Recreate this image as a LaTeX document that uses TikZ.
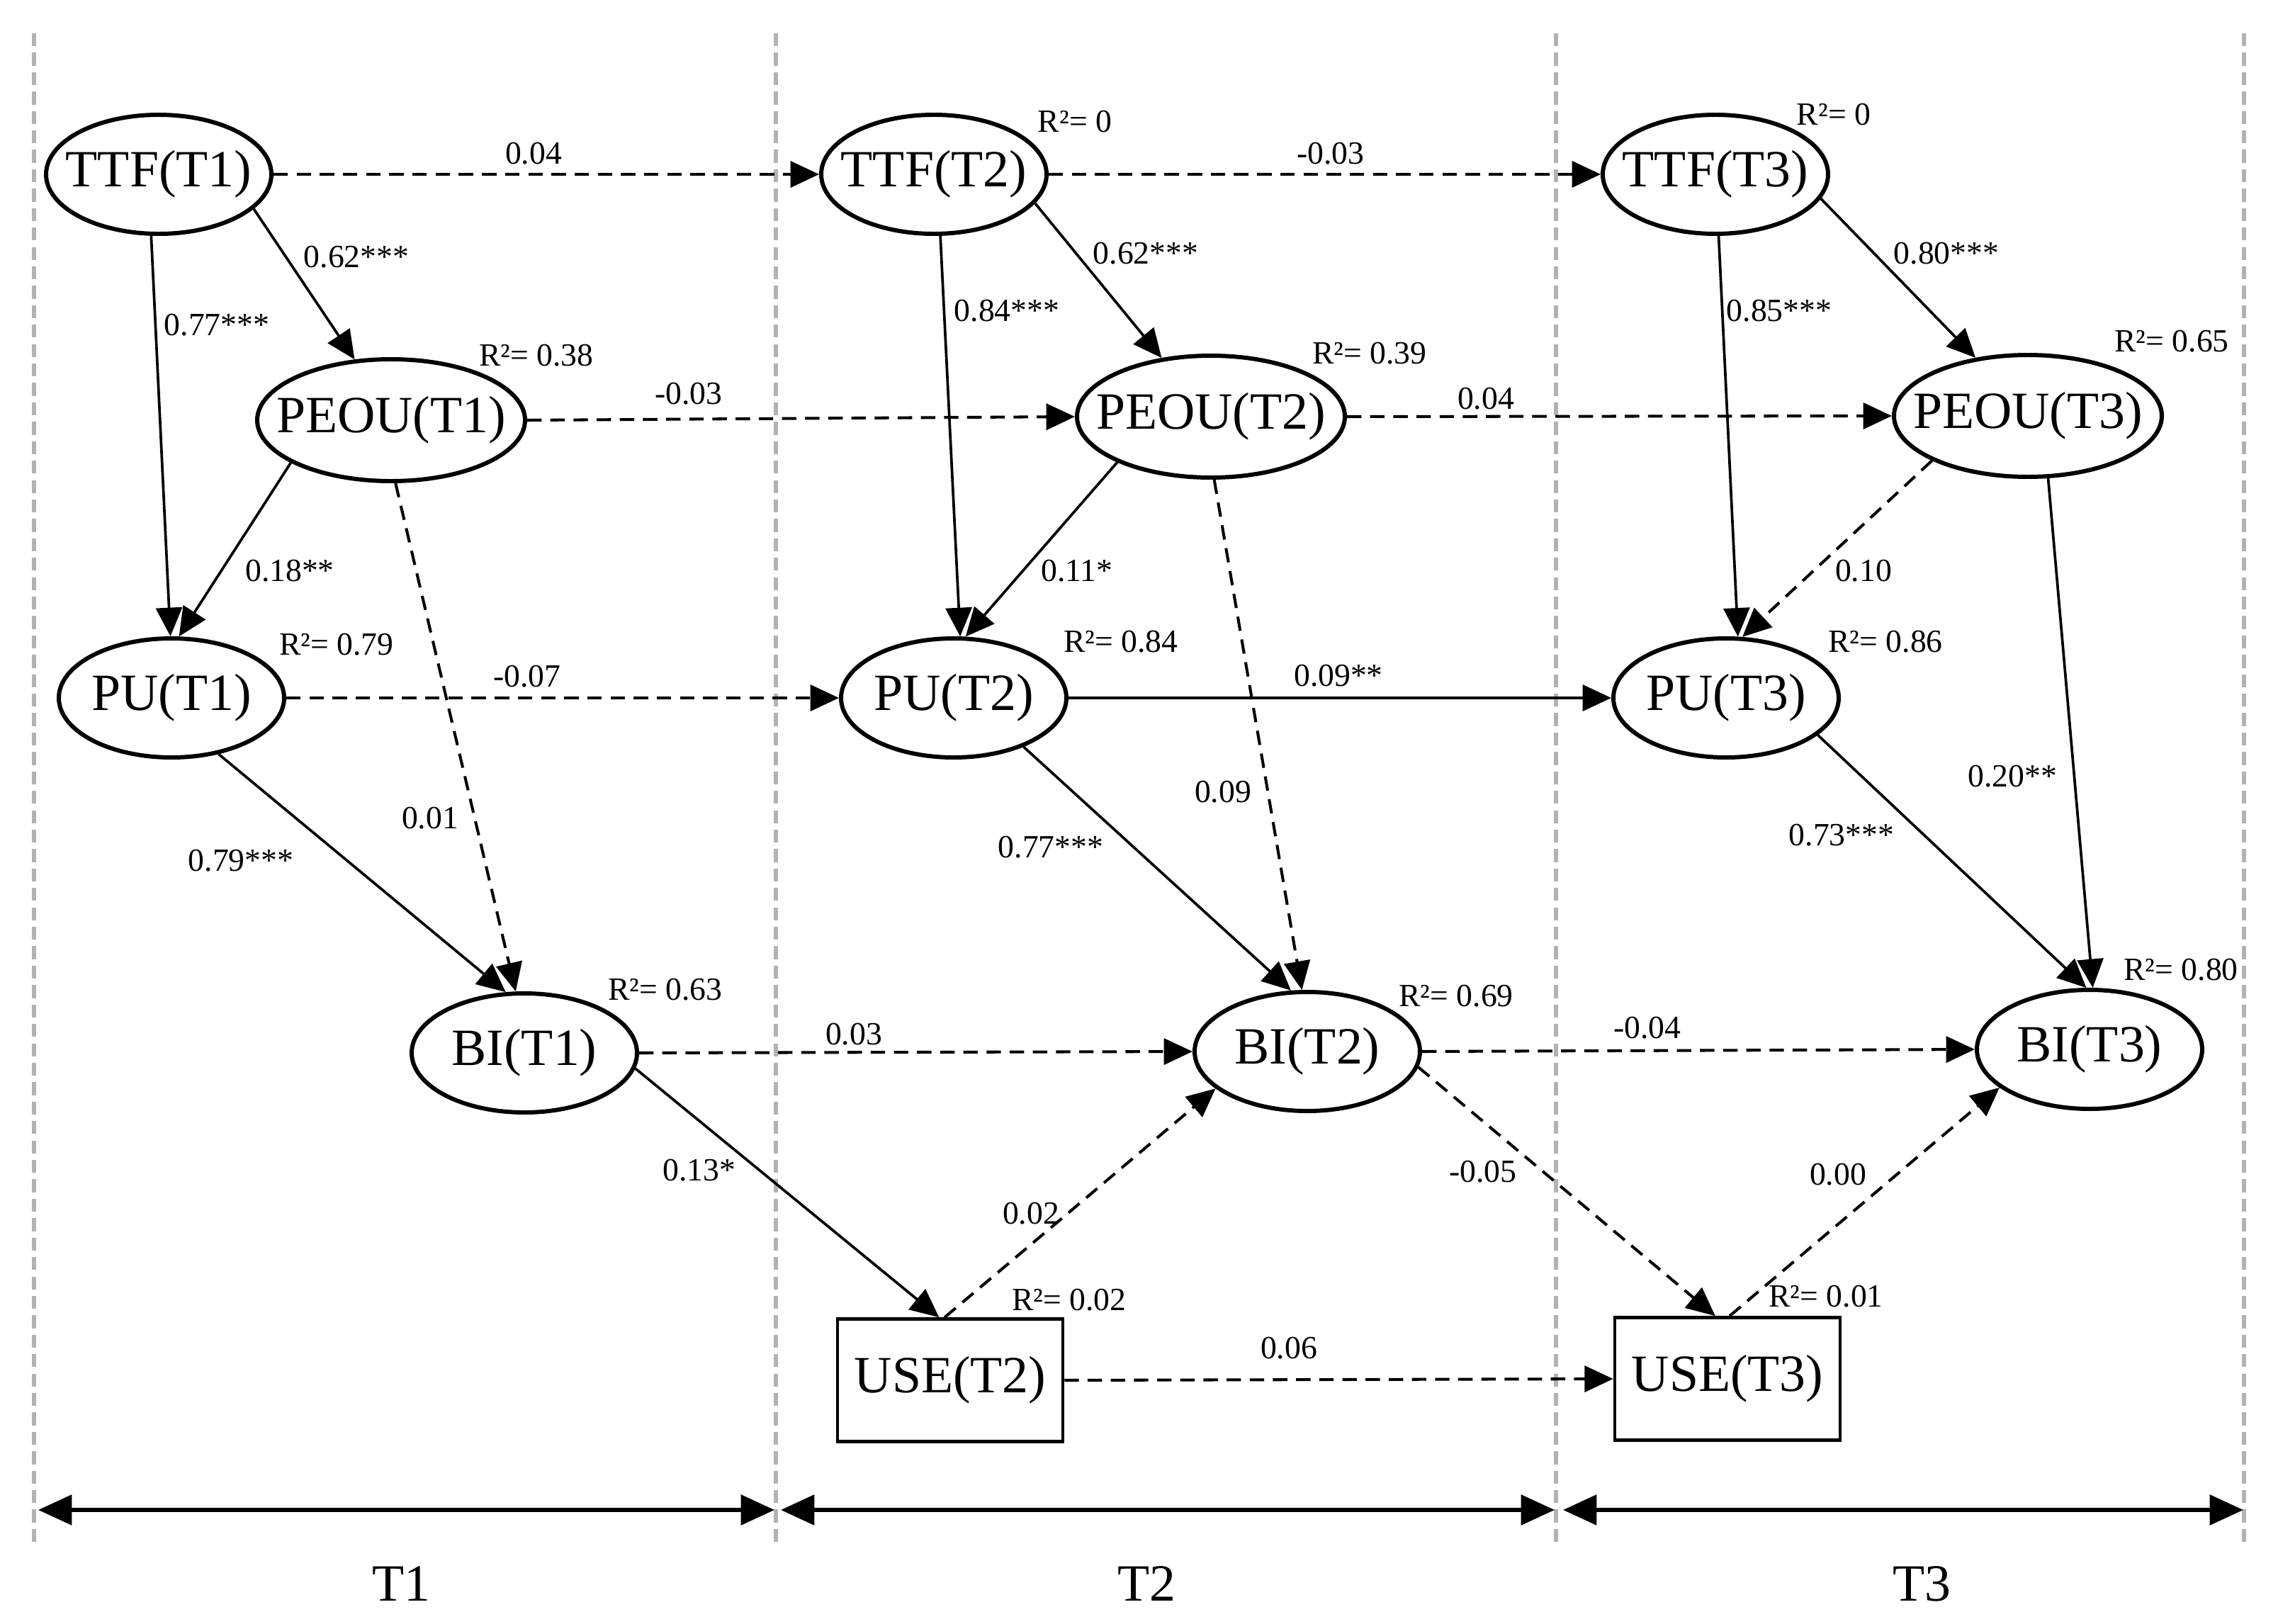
\documentclass[tikz,border=0pt]{standalone}
\usepackage{fontspec}
\setmainfont{Liberation Serif}
\usetikzlibrary{arrows.meta,shapes.geometric}

\newcommand{\lv}[1]{\makebox[0pt]{#1}}

\begin{document}
\begin{tikzpicture}[
  every node/.style={font=\fontsize{13}{15}\selectfont},
  latent/.style={draw,ellipse,line width=1.7pt,inner sep=0pt,minimum width=3.18cm,minimum height=1.68cm,font=\fontsize{21}{25}\selectfont},
  wide/.style={latent,minimum width=3.78cm,minimum height=1.72cm},
  obs/.style={draw,rectangle,line width=1.3pt,inner sep=0pt,minimum width=3.18cm,minimum height=1.73cm,font=\fontsize{21}{25}\selectfont},
  sig/.style={-{Triangle[length=11.5pt,width=10.5pt]},line width=1.05pt},
  nsig/.style={sig,dash pattern=on 5.8pt off 3.5pt,line width=1.15pt},
  lab/.style={inner sep=0pt,text=black},
  rsq/.style={inner sep=0pt},
  divider/.style={line width=1.5pt,black!30,dash pattern=on 5.2pt off 2.6pt},
  span/.style={{Triangle[length=13.5pt,width=12pt]}-{Triangle[length=13.5pt,width=12pt]},line width=1.6pt},
  period/.style={font=\fontsize{21}{25}\selectfont}
]
\useasboundingbox (0,0) rectangle (32.15,-22.92);

% time windows
\foreach \x in {0.48,10.95,21.96,31.67}
  \draw[divider] (\x,-0.47) -- (\x,-21.80);

\coordinate (t1l) at (0.54,-21.31);
\coordinate (t1r) at (10.93,-21.31);
\coordinate (t2l) at (11.02,-21.31);
\coordinate (t2r) at (21.94,-21.31);
\coordinate (t3l) at (22.06,-21.31);
\coordinate (t3r) at (31.66,-21.31);
\draw[span] (t1l) -- (t1r);
\draw[span] (t2l) -- (t2r);
\draw[span] (t3l) -- (t3r);
\node[period] (t1) at (5.66,-22.35) {T1};
\node[period] (t2) at (16.18,-22.35) {T2};
\node[period] (t3) at (27.12,-22.35) {T3};

% constructs
\node[latent] (ttf1) at (2.24,-2.46) {\lv{TTF(T1)}};
\node[latent] (ttf2) at (13.18,-2.46) {\lv{TTF(T2)}};
\node[latent] (ttf3) at (24.21,-2.46) {\lv{TTF(T3)}};
\node[wide] (peou1) at (5.52,-5.93) {\lv{PEOU(T1)}};
\node[wide] (peou2) at (17.09,-5.88) {\lv{PEOU(T2)}};
\node[wide] (peou3) at (28.62,-5.87) {\lv{PEOU(T3)}};
\node[latent] (pu1) at (2.42,-9.85) {\lv{PU(T1)}};
\node[latent] (pu2) at (13.46,-9.85) {\lv{PU(T2)}};
\node[latent] (pu3) at (24.36,-9.85) {\lv{PU(T3)}};
\node[latent] (bi1) at (7.40,-14.86) {\lv{BI(T1)}};
\node[latent] (bi2) at (18.45,-14.84) {\lv{BI(T2)}};
\node[latent] (bi3) at (29.49,-14.81) {\lv{BI(T3)}};
\node[obs] (use2) at (13.41,-19.48) {USE(T2)};
\node[obs] (use3) at (24.38,-19.46) {USE(T3)};

% explained variance
\node[rsq] (r2ttf2) at (15.17,-1.72) {R²= 0};
\node[rsq] (r2ttf3) at (25.88,-1.62) {R²= 0};
\node[rsq] (r2peou1) at (7.57,-5.02) {R²= 0.38};
\node[rsq] (r2peou2) at (19.33,-4.99) {R²= 0.39};
\node[rsq] (r2peou3) at (30.65,-4.82) {R²= 0.65};
\node[rsq] (r2pu1) at (4.75,-9.10) {R²= 0.79};
\node[rsq] (r2pu2) at (15.82,-9.06) {R²= 0.84};
\node[rsq] (r2pu3) at (26.61,-9.06) {R²= 0.86};
\node[rsq] (r2bi1) at (9.39,-13.97) {R²= 0.63};
\node[rsq] (r2bi2) at (20.55,-14.06) {R²= 0.69};
\node[rsq] (r2bi3) at (30.78,-13.69) {R²= 0.80};
\node[rsq] (r2use2) at (15.09,-18.35) {R²= 0.02};
\node[rsq] (r2use3) at (25.77,-18.30) {R²= 0.01};

% T1 paths
\draw[sig] (ttf1.-20) -- (peou1.121) node[lab] at (5.03,-3.63) {0.62***};
\draw[sig] (ttf1.263) -- (pu1.91) node[lab] at (3.06,-4.59) {0.77***};
\draw[sig] (peou1.203) -- (pu1.83) node[lab] at (4.09,-8.06) {0.18**};
\draw[sig] (pu1.-50) -- (bi1.107) node[lab] at (3.40,-12.15) {0.79***};
\draw[nsig] (peou1.274) -- (bi1.98) node[lab] at (6.07,-11.55) {0.01};
\draw[sig] (bi1.-8) -- (use2.100) node[lab] at (9.87,-16.52) {0.13*};

% T2 paths
\draw[sig] (ttf2.-16) -- (peou2.130) node[lab] at (16.17,-3.58) {0.62***};
\draw[sig] (ttf2.276) -- (pu2.84) node[lab] at (14.21,-4.39) {0.84***};
\draw[sig] (peou2.206) -- (pu2.79) node[lab] at (15.20,-8.06) {0.11*};
\draw[sig] (pu2.-35) -- (bi2.105) node[lab] at (14.83,-11.96) {0.77***};
\draw[nsig] (peou2.273) -- (bi2.95) node[lab] at (17.26,-11.18) {0.09};
\draw[nsig] (use2.95) -- (bi2.202) node[lab] at (14.55,-17.13) {0.02};
\draw[nsig] (bi2.-8) -- (use3.101) node[lab] at (20.93,-16.54) {-0.05};

% T3 paths
\draw[sig] (ttf3.-13) -- (peou3.132) node[lab] at (27.47,-3.58) {0.80***};
\draw[sig] (ttf3.273) -- (pu3.79) node[lab] at (25.11,-4.39) {0.85***};
\draw[nsig] (peou3.205) -- (pu3.75) node[lab] at (26.30,-8.06) {0.10};
\draw[sig] (peou3.288) -- (bi3.87) node[lab] at (28.40,-10.96) {0.20**};
\draw[sig] (pu3.-22) -- (bi3.93) node[lab] at (25.99,-11.79) {0.73***};
\draw[nsig] (use3.88) -- (bi3.203) node[lab] at (25.94,-16.58) {0.00};

% stability paths
\draw[nsig] (ttf1.east) -- (ttf2.west) node[lab] at (7.53,-2.17) {0.04};
\draw[nsig] (ttf2.east) -- (ttf3.west) node[lab] at (18.78,-2.17) {-0.03};
\draw[nsig] (peou1.east) -- (peou2.west) node[lab] at (9.72,-5.56) {-0.03};
\draw[nsig] (peou2.east) -- (peou3.west) node[lab] at (20.97,-5.63) {0.04};
\draw[nsig] (pu1.east) -- (pu2.west) node[lab] at (7.44,-9.55) {-0.07};
\draw[sig] (pu2.east) -- (pu3.west) node[lab] at (18.89,-9.54) {0.09**};
\draw[nsig] (bi1.east) -- (bi2.west) node[lab] at (12.05,-14.60) {0.03};
\draw[nsig] (bi2.east) -- (bi3.west) node[lab] at (23.25,-14.51) {-0.04};
\draw[nsig] (use2.east) -- (use3.west) node[lab] at (18.19,-19.03) {0.06};
\end{tikzpicture}
\end{document}
